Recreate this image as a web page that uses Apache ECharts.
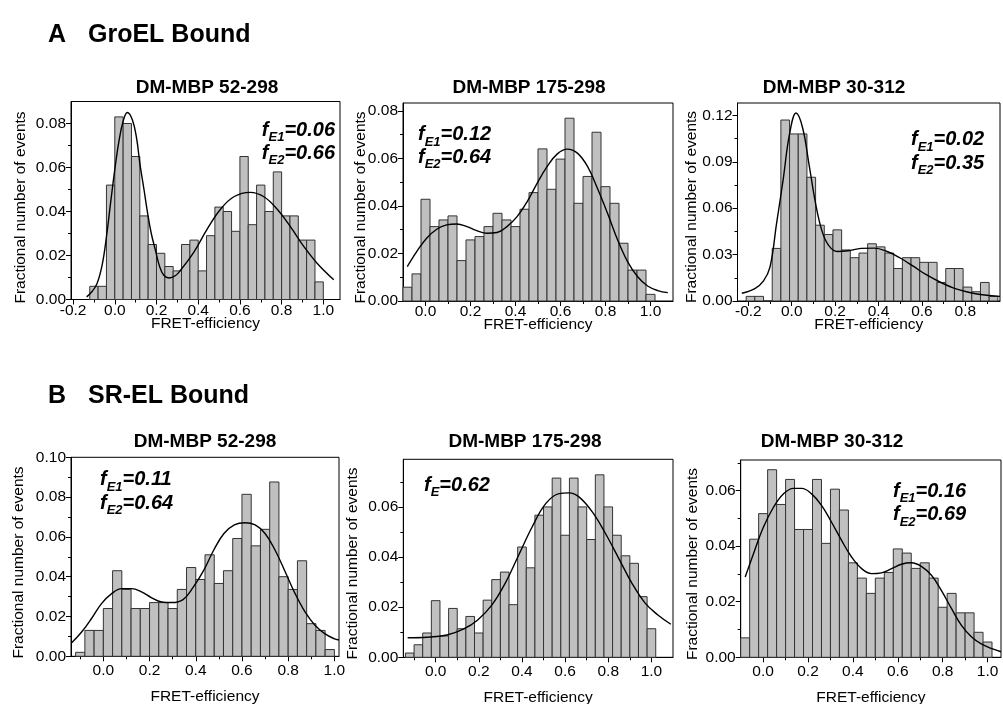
<!DOCTYPE html>
<html>
<head>
<meta charset="utf-8">
<title>FRET-efficiency histograms</title>
<script src="https://cdn.jsdelivr.net/npm/echarts@6.0.0/dist/echarts.min.js"></script>
<style>
  html, body { margin: 0; padding: 0; background: #ffffff; }
  #chart { width: 1003px; height: 704px; }
</style>
</head>
<body>
<div id="chart"></div>
<script>
// ---------- data: fraction of events per 0.04-wide FRET bin, plus fitted curves ----------
const binWidth = 0.04;

// A: GroEL bound
const a1Bins = [-0.10,-0.06,-0.02,0.02,0.06,0.10,0.14,0.18,0.22,0.26,0.30,0.34,0.38,0.42,0.46,0.50,0.54,0.58,0.62,0.66,0.70,0.74,0.78,0.82,0.86,0.90,0.94,0.98];
const a1Values = [0.006,0.006,0.052,0.083,0.080,0.065,0.038,0.025,0.021,0.015,0.013,0.025,0.027,0.013,0.029,0.042,0.040,0.031,0.065,0.034,0.052,0.040,0.058,0.038,0.038,0.027,0.027,0.008];
const a1CurveX = [-0.135,-0.11,-0.085,-0.06,-0.04,-0.02,0.0,0.02,0.04,0.06,0.085,0.105,0.12,0.14,0.155,0.175,0.195,0.215,0.235,0.26,0.29,0.315,0.38,0.443,0.507,0.571,0.65,0.715,0.779,0.843,0.907,0.971,1.05];
const a1CurveY = [0.0012,0.0035,0.0073,0.016,0.0285,0.044,0.059,0.072,0.081,0.085,0.0815,0.073,0.062,0.05,0.0406,0.03,0.0224,0.015,0.011,0.0098,0.0108,0.0133,0.0217,0.032,0.041,0.0467,0.0487,0.0467,0.041,0.033,0.024,0.0164,0.009];

const a2Bins = [-0.08,-0.04,0.00,0.04,0.08,0.12,0.16,0.20,0.24,0.28,0.32,0.36,0.40,0.44,0.48,0.52,0.56,0.60,0.64,0.68,0.72,0.76,0.80,0.84,0.88,0.92,0.96,1.00];
const a2Values = [0.0058,0.0114,0.0428,0.0313,0.0341,0.0358,0.017,0.0257,0.0271,0.0313,0.0369,0.0341,0.0313,0.0386,0.0456,0.064,0.047,0.0597,0.0769,0.0411,0.0524,0.071,0.0481,0.0411,0.0243,0.013,0.013,0.0028];
const a2CurveX = [-0.081,-0.039,0.005,0.05,0.094,0.139,0.184,0.228,0.273,0.318,0.362,0.407,0.452,0.496,0.541,0.586,0.63,0.675,0.72,0.764,0.809,0.854,0.898,0.943,0.987,1.032,1.077];
const a2CurveY = [0.0145,0.0208,0.0264,0.0302,0.032,0.0324,0.0313,0.0296,0.0285,0.0288,0.0313,0.0355,0.0418,0.0495,0.0566,0.0619,0.0639,0.0622,0.0566,0.0474,0.0369,0.0257,0.0166,0.0102,0.0063,0.0044,0.0035];

const a3Bins = [-0.19,-0.15,-0.11,-0.07,-0.03,0.01,0.05,0.09,0.13,0.17,0.21,0.25,0.29,0.33,0.37,0.41,0.45,0.49,0.53,0.57,0.61,0.65,0.69,0.73,0.77,0.81,0.85,0.89,0.93];
const a3Values = [0.003,0.003,0,0.034,0.117,0.108,0.108,0.080,0.049,0.043,0.046,0.033,0.028,0.031,0.037,0.035,0.031,0.021,0.028,0.028,0.025,0.025,0.012,0.021,0.021,0.009,0.006,0.012,0.003];
const a3CurveX = [-0.23,-0.17,-0.13,-0.10,-0.07,-0.04,-0.01,0.02,0.05,0.08,0.11,0.14,0.17,0.21,0.26,0.32,0.38,0.44,0.50,0.56,0.62,0.69,0.75,0.81,0.87,0.96];
const a3CurveY = [0.005,0.008,0.013,0.022,0.05,0.078,0.108,0.1215,0.112,0.088,0.063,0.045,0.036,0.032,0.0325,0.034,0.0342,0.032,0.0278,0.0225,0.017,0.0118,0.0082,0.0058,0.0042,0.003];

// B: SR-EL bound
const b1Bins = [-0.10,-0.06,-0.02,0.02,0.06,0.10,0.14,0.18,0.22,0.26,0.30,0.34,0.38,0.42,0.46,0.50,0.54,0.58,0.62,0.66,0.70,0.74,0.78,0.82,0.86,0.90,0.94,0.98];
const b1Values = [0.002,0.013,0.013,0.024,0.043,0.0336,0.024,0.024,0.027,0.027,0.024,0.0336,0.0446,0.0386,0.051,0.0366,0.043,0.0592,0.0814,0.0555,0.0638,0.0876,0.040,0.0336,0.048,0.0164,0.013,0.0034];
const b1CurveX = [-0.138,-0.094,-0.051,-0.008,0.036,0.079,0.122,0.165,0.209,0.252,0.295,0.345,0.39,0.435,0.478,0.522,0.567,0.612,0.657,0.70,0.743,0.787,0.83,0.873,0.916,0.958,0.998,1.02];
const b1CurveY = [0.0067,0.0122,0.019,0.0265,0.0315,0.034,0.034,0.0324,0.0294,0.0273,0.027,0.0285,0.0349,0.0433,0.0534,0.0617,0.066,0.0671,0.066,0.0617,0.0534,0.0425,0.0315,0.0223,0.0156,0.0114,0.0089,0.0082];

const b2Bins = [-0.12,-0.08,-0.04,0.00,0.04,0.08,0.12,0.16,0.20,0.24,0.28,0.32,0.36,0.40,0.44,0.48,0.52,0.56,0.60,0.64,0.68,0.72,0.76,0.80,0.84,0.88,0.92,0.96,1.00];
const b2Values = [0.0017,0.005,0.0097,0.0226,0.0085,0.0195,0.0114,0.0163,0.0097,0.0228,0.031,0.034,0.021,0.044,0.0357,0.0567,0.060,0.0715,0.0487,0.0715,0.060,0.047,0.0728,0.060,0.0487,0.0405,0.0375,0.0242,0.0114];
const b2CurveX = [-0.13,-0.041,0.052,0.128,0.195,0.26,0.322,0.385,0.447,0.51,0.572,0.618,0.664,0.726,0.787,0.849,0.91,0.972,1.03,1.09];
const b2CurveY = [0.0078,0.008,0.0089,0.0112,0.0149,0.0208,0.0295,0.0408,0.052,0.0613,0.0653,0.0656,0.064,0.058,0.0494,0.0394,0.0295,0.0215,0.0169,0.0132];

const b3Bins = [-0.08,-0.04,0.00,0.04,0.08,0.12,0.16,0.20,0.24,0.28,0.32,0.36,0.40,0.44,0.48,0.52,0.56,0.60,0.64,0.68,0.72,0.76,0.80,0.84,0.88,0.92,0.96,1.00];
const b3Values = [0.007,0.0425,0.0517,0.0675,0.055,0.064,0.046,0.046,0.064,0.041,0.0605,0.053,0.034,0.0285,0.023,0.0285,0.0305,0.039,0.0375,0.032,0.034,0.0285,0.018,0.023,0.016,0.016,0.009,0.0055];
const b3CurveX = [-0.08,-0.043,0.0,0.046,0.09,0.135,0.172,0.216,0.261,0.305,0.35,0.394,0.439,0.483,0.527,0.572,0.616,0.661,0.705,0.75,0.794,0.839,0.883,0.928,0.972,1.016,1.06];
const b3CurveY = [0.0289,0.0373,0.0466,0.054,0.0588,0.0608,0.0608,0.0588,0.0546,0.0486,0.042,0.0361,0.0319,0.0301,0.0304,0.0319,0.0335,0.034,0.0327,0.0295,0.0241,0.0176,0.0116,0.0074,0.0048,0.0032,0.002];

// tick values
const xTicksA1 = [-0.2,0.0,0.2,0.4,0.6,0.8,1.0];
const xMinorA1 = [-0.1,0.1,0.3,0.5,0.7,0.9];
const xTicksA3 = [-0.2,0.0,0.2,0.4,0.6,0.8];
const xMinorA3 = [-0.1,0.1,0.3,0.5,0.7,0.9];
const xTicksStd = [0.0,0.2,0.4,0.6,0.8,1.0];
const xMinorStd = [-0.1,0.1,0.3,0.5,0.7,0.9];
const xMinorNoLeft = [0.1,0.3,0.5,0.7,0.9];
const yTicks08 = [0,0.02,0.04,0.06,0.08];
const yMinor08 = [0.01,0.03,0.05,0.07];
const yTicksA3 = [0,0.03,0.06,0.09,0.12];
const yMinorA3 = [0.015,0.045,0.075,0.105];
const yTicksB1 = [0,0.02,0.04,0.06,0.08,0.10];
const yMinorB1 = [0.01,0.03,0.05,0.07,0.09];
const yTicks06 = [0,0.02,0.04,0.06];
const yMinor06 = [0.01,0.03,0.05,0.07];

// annotation strings
const fitA1 = [['E1','0.06'],['E2','0.66']];
const fitA2 = [['E1','0.12'],['E2','0.64']];
const fitA3 = [['E1','0.02'],['E2','0.35']];
const fitB1 = [['E1','0.11'],['E2','0.64']];
const fitB2 = [['E','0.62']];
const fitB3 = [['E1','0.16'],['E2','0.69']];

// ---------- layout ----------
const FONT = '"Liberation Sans", Arial, Helvetica, sans-serif';
const TEXT_SIZE = 15.5;
const Y_NAME = 'Fractional number of events';

const panels = [
  { bins:a1Bins, values:a1Values, cx:a1CurveX, cy:a1CurveY, xTicks:xTicksA1, xMinor:xMinorA1, yTicks:yTicks08, yMinor:yMinor08,
    box:[71,101.5,269,198], xRange:[-0.21,1.08], yMax:0.09, yNamePos:[20.5,207.5], xNameGap:16, xLabelMargin:3,
    title:'DM-MBP 52-298', titlePos:[207,88], fit:fitA1, fitPos:[335,130,153], fitAlign:'right' },
  { bins:a2Bins, values:a2Values, cx:a2CurveX, cy:a2CurveY, xTicks:xTicksStd, xMinor:xMinorNoLeft, yTicks:yTicks08, yMinor:yMinor08,
    box:[403,103,270,198], xRange:[-0.1,1.1], yMax:0.0833, yNamePos:[361,207.5], xNameGap:16, xLabelMargin:3,
    title:'DM-MBP 175-298', titlePos:[529,88], fit:fitA2, fitPos:[418,134.5,157], fitAlign:'left' },
  { bins:a3Bins, values:a3Values, cx:a3CurveX, cy:a3CurveY, xTicks:xTicksA3, xMinor:xMinorA3, yTicks:yTicksA3, yMinor:yMinorA3,
    box:[737.5,103,262.5,198], xRange:[-0.25,0.96], yMax:0.128, yNamePos:[691.5,207], xNameGap:16, xLabelMargin:3,
    title:'DM-MBP 30-312', titlePos:[834,88], fit:fitA3, fitPos:[911,139.5,163], fitAlign:'left' },
  { bins:b1Bins, values:b1Values, cx:b1CurveX, cy:b1CurveY, xTicks:xTicksStd, xMinor:xMinorStd, yTicks:yTicksB1, yMinor:yMinorB1,
    box:[71,457.3,268,199], xRange:[-0.14,1.02], yMax:0.10, yNamePos:[19,562.5], xNameGap:32, xLabelMargin:6,
    title:'DM-MBP 52-298', titlePos:[205,442], fit:fitB1, fitPos:[100,479.5,503], fitAlign:'left' },
  { bins:b2Bins, values:b2Values, cx:b2CurveX, cy:b2CurveY, xTicks:xTicksStd, xMinor:xMinorStd, yTicks:yTicks06, yMinor:yMinor06,
    box:[403.3,459.3,269.7,198], xRange:[-0.15,1.1], yMax:0.079, yNamePos:[352.5,563.5], xNameGap:32, xLabelMargin:6,
    title:'DM-MBP 175-298', titlePos:[525,442], fit:fitB2, fitPos:[424,485], fitAlign:'left' },
  { bins:b3Bins, values:b3Values, cx:b3CurveX, cy:b3CurveY, xTicks:xTicksStd, xMinor:xMinorNoLeft, yTicks:yTicks06, yMinor:yMinor06,
    box:[740.7,460,260.3,197.3], xRange:[-0.1,1.06], yMax:0.071, yNamePos:[692.5,564], xNameGap:32, xLabelMargin:6,
    title:'DM-MBP 30-312', titlePos:[832,442], fit:fitB3, fitPos:[893,491,514.5], fitAlign:'left' }
];

const textStyle = { color: '#000', fontSize: TEXT_SIZE, fontFamily: FONT };
const lineStyleBlack = { color: '#000', width: 1 };

const grids = [], xAxes = [], yAxes = [], series = [], graphics = [];

// "f" with a subscript, bold italic
function fitLabel(x, y, sub, val, align) {
  const base = { fontSize: 20, fontWeight: 'bold', fontStyle: 'italic', fontFamily: FONT, fill: '#000' };
  return {
    type: 'text', x: x, y: y, silent: true, z: 100,
    style: {
      text: '{m|f}{s|' + sub + '}{m|=' + val + '}',
      align: align, textAlign: align, verticalAlign: 'middle', textVerticalAlign: 'middle',
      fill: '#000',
      rich: {
        m: Object.assign({}, base, { lineHeight: 20, verticalAlign: 'top' }),
        s: Object.assign({}, base, { fontSize: 13, lineHeight: 13, padding: [11, 0, 0, 0], verticalAlign: 'top' })
      }
    }
  };
}

function plainText(x, y, text, size, weight, align, rotation) {
  return {
    type: 'text', x: x, y: y, rotation: rotation || 0, silent: true, z: 100,
    style: {
      text: text, fill: '#000', fontSize: size, fontWeight: weight, fontFamily: FONT,
      align: align, textAlign: align, verticalAlign: 'middle', textVerticalAlign: 'middle'
    }
  };
}

panels.forEach(function (p, i) {
  grids.push({
    left: p.box[0], top: p.box[1], width: p.box[2], height: p.box[3],
    show: true, borderColor: '#000', borderWidth: 1, backgroundColor: 'transparent',
    containLabel: false, outerBoundsMode: 'none'
  });

  // major x ticks + labels + name
  xAxes.push({
    type: 'value', gridIndex: i, position: 'bottom', min: p.xRange[0], max: p.xRange[1],
    axisLine: { show: true, onZero: false, lineStyle: lineStyleBlack },
    axisTick: { show: true, inside: false, length: 5, customValues: p.xTicks, lineStyle: lineStyleBlack },
    axisLabel: Object.assign({ show: true, customValues: p.xTicks, margin: p.xLabelMargin,
      formatter: function (v) { return v.toFixed(1); } }, textStyle),
    splitLine: { show: false },
    name: 'FRET-efficiency', nameLocation: 'middle', nameGap: p.xNameGap,
    nameTextStyle: textStyle, nameMoveOverlap: false
  });
  // minor x ticks
  xAxes.push({
    type: 'value', gridIndex: i, position: 'bottom', min: p.xRange[0], max: p.xRange[1],
    axisLine: { show: false, onZero: false },
    axisTick: { show: true, inside: false, length: 3, customValues: p.xMinor, lineStyle: lineStyleBlack },
    axisLabel: { show: false }, splitLine: { show: false }
  });

  // major y ticks + labels
  yAxes.push({
    type: 'value', gridIndex: i, position: 'left', min: 0, max: p.yMax,
    axisLine: { show: true, onZero: false, lineStyle: lineStyleBlack },
    axisTick: { show: true, inside: false, length: 5, customValues: p.yTicks, lineStyle: lineStyleBlack },
    axisLabel: Object.assign({ show: true, customValues: p.yTicks, margin: 5,
      formatter: function (v) { return v.toFixed(2); } }, textStyle),
    splitLine: { show: false }
  });
  // minor y ticks
  yAxes.push({
    type: 'value', gridIndex: i, position: 'left', min: 0, max: p.yMax,
    axisLine: { show: false, onZero: false },
    axisTick: { show: true, inside: false, length: 3, customValues: p.yMinor, lineStyle: lineStyleBlack },
    axisLabel: { show: false }, splitLine: { show: false }
  });

  // histogram bars, each spanning its bin on the value axis
  series.push({
    type: 'custom', coordinateSystem: 'cartesian2d', xAxisIndex: 2 * i, yAxisIndex: 2 * i,
    silent: true, z: 2,
    data: p.bins.map(function (b, k) { return [b, p.values[k]]; }),
    encode: { x: 0, y: 1 },
    renderItem: function (params, api) {
      const c = api.value(0), v = api.value(1);
      const p0 = api.coord([c - binWidth / 2, v]);
      const p1 = api.coord([c + binWidth / 2, 0]);
      const rect = echarts.graphic.clipRectByRect(
        { x: p0[0], y: p0[1], width: p1[0] - p0[0], height: p1[1] - p0[1] },
        { x: params.coordSys.x, y: params.coordSys.y, width: params.coordSys.width, height: params.coordSys.height }
      );
      if (!rect) return null;
      return { type: 'rect', shape: rect, style: { fill: '#c0c0c0', stroke: '#333333', lineWidth: 1 } };
    }
  });

  // fitted curve
  series.push({
    type: 'line', xAxisIndex: 2 * i, yAxisIndex: 2 * i, silent: true, z: 5,
    data: p.cx.map(function (x, k) { return [x, p.cy[k]]; }),
    smooth: 0.4, showSymbol: false, symbol: 'none', clip: true,
    lineStyle: { color: '#000', width: 1.4 }
  });

  graphics.push(plainText(p.titlePos[0], p.titlePos[1], p.title, 19, 'bold', 'center'));
  graphics.push(plainText(p.yNamePos[0], p.yNamePos[1], Y_NAME, TEXT_SIZE, 'normal', 'center', Math.PI / 2));
  p.fit.forEach(function (f, k) {
    graphics.push(fitLabel(p.fitPos[0], p.fitPos[1 + k], f[0], f[1], p.fitAlign));
  });
});

// section headings
graphics.push(plainText(48, 35, 'A', 25, 'bold', 'left'));
graphics.push(plainText(88, 35, 'GroEL Bound', 25, 'bold', 'left'));
graphics.push(plainText(48, 396, 'B', 25, 'bold', 'left'));
graphics.push(plainText(88, 396, 'SR-EL Bound', 25, 'bold', 'left'));

const chart = echarts.init(document.getElementById('chart'), null, { renderer: 'canvas' });
chart.setOption({
  animation: false,
  backgroundColor: '#ffffff',
  textStyle: { fontFamily: FONT },
  grid: grids,
  xAxis: xAxes,
  yAxis: yAxes,
  series: series,
  graphic: { elements: graphics }
});
</script>
</body>
</html>
